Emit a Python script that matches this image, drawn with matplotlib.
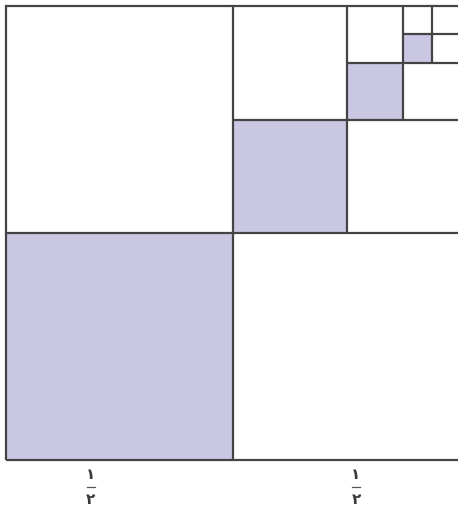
import matplotlib
import matplotlib.pyplot as plt
import matplotlib.patches as patches

matplotlib.use("Agg")

# shaded squares: lower-left corner (x0 = y0) and side length, unit square
SHADED_X0 = [0.0, 0.5, 0.75, 0.875]
SHADED_SIZE = [0.5, 0.25, 0.125, 0.0625]

# grid lines: (position, start, end) for vertical and horizontal lines
V_LINES = [(0.5, 0.0, 1.0), (0.75, 0.5, 1.0), (0.875, 0.75, 1.0), (0.9375, 0.875, 1.0)]
H_LINES = [(0.5, 0.0, 1.0), (0.75, 0.5, 1.0), (0.875, 0.75, 1.0), (0.9375, 0.875, 1.0)]

LABEL_X = [0.187, 0.771]
LABEL_NUM = "١"
LABEL_DEN = "٢"

SHADE = "#c9c7e3"
EDGE = "#444444"
SIDE = 454.0

fig = plt.figure(figsize=(4.58, 5.08), dpi=100)
ax = fig.add_axes([0, 0, 1, 1])
ax.set_xlim(-6 / SIDE, (458 - 6) / SIDE)
ax.set_ylim(-(508 - 460) / SIDE, 1 + 6 / SIDE)
ax.axis("off")

for x0, s in zip(SHADED_X0, SHADED_SIZE):
    ax.add_patch(patches.Rectangle((x0, x0), s, s, facecolor=SHADE, edgecolor="none"))

lw = 1.6
ax.add_patch(patches.Rectangle((0, 0), 1, 1, fill=False, edgecolor=EDGE, linewidth=lw))
for x, y0, y1 in V_LINES:
    ax.plot([x, x], [y0, y1], color=EDGE, linewidth=lw, solid_capstyle="butt")
for y, x0, x1 in H_LINES:
    ax.plot([x0, x1], [y, y], color=EDGE, linewidth=lw, solid_capstyle="butt")

for x in LABEL_X:
    ax.text(x, -0.032, LABEL_NUM, ha="center", va="center", fontsize=11,
            fontweight="bold", color="#3a3a3a", family=["DejaVu Sans"])
    ax.plot([x - 0.008, x + 0.008], [-0.0595, -0.0595], color="#555555", linewidth=0.9)
    ax.text(x, -0.087, LABEL_DEN, ha="center", va="center", fontsize=11,
            fontweight="bold", color="#3a3a3a", family=["DejaVu Sans"])

plt.savefig("out.png", dpi=100)
plt.close()
